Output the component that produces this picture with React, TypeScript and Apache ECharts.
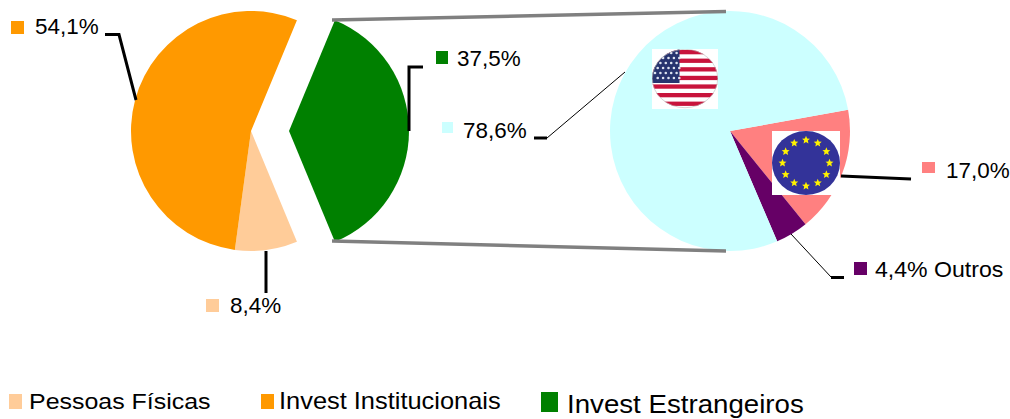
import React, { useEffect, useRef } from "react";
import * as echarts from "echarts";

const leftNames = ["Invest Estrangeiros", "Pessoas Físicas", "Invest Institucionais"];
const leftValues = [37.5, 8.4, 54.1];
const leftColors = ["#008000", "#FFCC99", "#FF9900"];
const rightNames = ["Europa", "Outros", "EUA"];
const rightValues = [17.0, 4.4, 78.6];
const rightColors = ["#FF8080", "#660066", "#CCFFFF"];

const pct = (v: number) => v.toFixed(1).replace(".", ",") + "%";

const starPts = (cx: number, cy: number, r: number) => {
  const p: string[] = [];
  for (let i = 0; i < 10; i++) {
    const a = -Math.PI / 2 + (i * Math.PI) / 5;
    const rr = i % 2 === 0 ? r : r * 0.45;
    p.push(`${(cx + rr * Math.cos(a)).toFixed(2)},${(cy + rr * Math.sin(a)).toFixed(2)}`);
  }
  return p.join(" ");
};

const usSvg = () => {
  let stripes = "";
  for (let i = 0; i < 7; i++) {
    const y = 1 + i * 8.6;
    stripes += `<rect x="0" y="${y}" width="66" height="4.3" fill="#C8143C"/>`;
  }
  let stars = "";
  for (let r = 0; r < 6; r++) {
    for (let c = 0; c < 5; c++) {
      stars += `<circle cx="${3 + c * 5.4 + (r % 2) * 2.7}" cy="${4 + r * 5}" r="1.3" fill="#DDE3F0"/>`;
    }
  }
  return `<svg xmlns="http://www.w3.org/2000/svg" width="66" height="60"><rect width="66" height="60" fill="#fff"/><defs><clipPath id="c"><ellipse cx="33" cy="29.5" rx="33" ry="29.5"/></clipPath></defs><g clip-path="url(#c)"><rect width="66" height="60" fill="#fff"/>${stripes}<rect x="0" y="0" width="27.5" height="34" fill="#27346F"/>${stars}</g><ellipse cx="33" cy="29.5" rx="32.7" ry="29.2" fill="none" stroke="#bbb" stroke-width="0.6"/></svg>`;
};

const euSvg = () => {
  let stars = "";
  for (let i = 0; i < 12; i++) {
    const a = (i * Math.PI) / 6;
    stars += `<polygon points="${starPts(34 + 23.5 * Math.cos(a), 32 + 23 * Math.sin(a), 4.2)}" fill="#FFF200"/>`;
  }
  return `<svg xmlns="http://www.w3.org/2000/svg" width="68" height="64"><rect width="68" height="64" fill="#fff"/><ellipse cx="34" cy="32" rx="34" ry="32" fill="#333399"/>${stars}</svg>`;
};

const uri = (s: string) => "data:image/svg+xml;charset=utf-8," + encodeURIComponent(s);

const FONT = '"Liberation Sans", Arial, sans-serif';
const txt = (x: number, y: number, text: string, fontSize = 22, scaleX = 1.02) => ({
  type: "text",
  x,
  y,
  scaleX,
  z: 20,
  style: { text, fontFamily: FONT, fontSize, fill: "#000", textVerticalAlign: "middle", textAlign: "left" },
});
const sw = (x: number, y: number, w: number, h: number, fill: string) => ({
  type: "rect",
  z: 20,
  shape: { x, y, width: w, height: h },
  style: { fill },
});
const line = (pts: number[][], width: number, color = "#000") => ({
  type: "polyline",
  z: 15,
  shape: { points: pts },
  style: { stroke: color, lineWidth: width, fill: "none", lineJoin: "miter" },
});

export default function App() {
  const ref = useRef<HTMLDivElement>(null);
  useEffect(() => {
    const chart = echarts.init(ref.current!, null, { renderer: "svg" });
    chart.setOption({
      animation: false,
      backgroundColor: "#fff",
      series: [
        {
          type: "pie",
          center: [251, 131],
          radius: [0, 120],
          startAngle: 67.5,
          selectedMode: "single",
          selectedOffset: 38,
          label: { show: false },
          labelLine: { show: false },
          emphasis: { disabled: true },
          data: leftNames.map((name, i) => ({
            name,
            value: leftValues[i],
            selected: i === 0,
            itemStyle: { color: leftColors[i] },
          })),
        },
        {
          type: "pie",
          center: [730, 131],
          radius: [0, 120],
          startAngle: 10.2,
          label: { show: false },
          labelLine: { show: false },
          emphasis: { disabled: true },
          data: rightNames.map((name, i) => ({
            name,
            value: rightValues[i],
            itemStyle: { color: rightColors[i] },
          })),
        },
      ],
      graphic: [
        line([[332, 20], [726, 11.5]], 3.5, "#808080"),
        line([[332, 241], [726, 251]], 3.5, "#808080"),

        line([[105, 34.5], [119, 34.5], [136, 100]], 3),
        line([[423, 67], [409, 67], [409, 131]], 3),
        line([[266, 251], [266, 293]], 3),
        line([[534, 138], [547, 138]], 3),
        line([[547, 138], [625, 72]], 1),
        line([[841, 176], [911, 179]], 3),
        line([[791, 234], [831, 277]], 1),
        line([[831, 277.5], [844, 277.5]], 3),

        sw(11, 21, 13, 13, leftColors[2]),
        txt(35, 27, pct(leftValues[2])),
        sw(436, 51, 12, 13, leftColors[0]),
        txt(457, 59, pct(leftValues[0])),
        sw(442, 122, 11, 11, rightColors[2]),
        txt(463, 131, pct(rightValues[2])),
        sw(922, 162, 13, 11, rightColors[0]),
        txt(946, 171, pct(rightValues[0])),
        sw(854, 262, 13, 13, rightColors[1]),
        txt(875, 270, pct(rightValues[1]) + " " + rightNames[1], 22, 1.05),
        sw(206, 299, 13, 13, leftColors[1]),
        txt(230, 306, pct(leftValues[1])),

        sw(9, 394, 13, 15, leftColors[1]),
        txt(29, 401, leftNames[1], 23, 1.085),
        sw(261, 394, 13, 15, leftColors[2]),
        txt(279, 401, leftNames[2], 23, 1.105),
        sw(541, 392, 17, 20, leftColors[0]),
        txt(567, 404, leftNames[0], 25.5, 1.085),

        { type: "image", z: 12, style: { image: uri(usSvg()), x: 652, y: 49, width: 66, height: 60 } },
        { type: "image", z: 12, style: { image: uri(euSvg()), x: 772, y: 131, width: 68, height: 64 } },
      ],
    });
    return () => chart.dispose();
  }, []);
  return <div ref={ref} style={{ position: "absolute", left: 0, top: 0, width: 1010, height: 419 }} />;
}
